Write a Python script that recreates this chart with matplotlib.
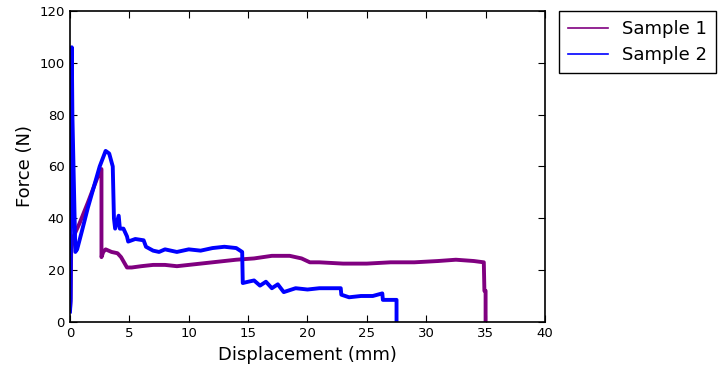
import matplotlib.pyplot as plt

# Sample 1 (purple) - displacement (mm) and force (N)
s1_x = [0.0, 0.05, 0.1, 0.3, 0.8, 1.5, 2.0, 2.5, 2.65, 2.65, 2.8, 3.0, 3.5, 4.0, 4.3,
        4.8, 5.2, 6.0, 7.0, 8.0, 9.0, 10.0, 12.0, 14.0, 15.5, 17.0, 18.5, 19.5, 20.2,
        21.0, 23.0, 25.0, 27.0, 29.0, 31.0, 32.5, 34.0, 34.85, 34.9, 35.0, 35.0]
s1_y = [5.0, 9.0, 28.0, 33.0, 38.0, 46.0, 52.0, 58.0, 59.0, 25.0, 27.0, 28.0, 27.0, 26.5, 25.0,
        21.0, 21.0, 21.5, 22.0, 22.0, 21.5, 22.0, 23.0, 24.0, 24.5, 25.5, 25.5, 24.5, 23.0,
        23.0, 22.5, 22.5, 23.0, 23.0, 23.5, 24.0, 23.5, 23.0, 12.0, 12.0, 0.0]

# Sample 2 (blue)
s2_x = [0.0, 0.05, 0.1, 0.15, 0.2, 0.45, 0.6, 1.0, 1.5, 2.0, 2.5, 3.0, 3.3, 3.6, 3.7,
        3.8, 4.1, 4.2, 4.5, 4.8, 4.9, 5.5, 6.2, 6.4, 7.0, 7.5, 8.0, 9.0, 10.0, 11.0,
        12.0, 13.0, 14.0, 14.5, 14.55, 15.0, 15.5, 16.0, 16.5, 17.0, 17.5, 18.0, 19.0,
        20.0, 21.0, 22.8, 22.85, 23.5, 24.5, 25.5, 26.3, 26.35, 27.0, 27.5, 27.5]
s2_y = [4.0, 8.0, 60.0, 106.0, 80.0, 27.0, 28.0, 35.0, 44.0, 52.0, 60.0, 66.0, 65.0, 60.0, 40.0,
        36.0, 41.0, 36.0, 36.0, 33.0, 31.0, 32.0, 31.5, 29.0, 27.5, 27.0, 28.0, 27.0, 28.0, 27.5,
        28.5, 29.0, 28.5, 27.0, 15.0, 15.5, 16.0, 14.0, 15.5, 13.0, 14.5, 11.5, 13.0,
        12.5, 13.0, 13.0, 10.5, 9.5, 10.0, 10.0, 11.0, 8.5, 8.5, 8.5, 0.0]

fig = plt.figure(figsize=(7.18, 3.73), dpi=100)
ax = fig.add_axes([0.0975, 0.137, 0.6615, 0.8335])

ax.plot(s1_x, s1_y, color='#800080', linewidth=2.8, label='Sample 1')
ax.plot(s2_x, s2_y, color='#0000ff', linewidth=2.8, label='Sample 2')

ax.set_xlim(0, 40)
ax.set_ylim(0, 120)
ax.set_xticks(range(0, 41, 5))
ax.set_yticks(range(0, 121, 20))
ax.tick_params(direction='in', top=True, right=True, labelsize=9.5, length=5, pad=4)
for sp in ax.spines.values():
    sp.set_linewidth(1.2)

ax.set_xlabel('Displacement (mm)', fontsize=13)
ax.set_ylabel('Force (N)', fontsize=13)

leg = ax.legend(loc='upper left', bbox_to_anchor=(1.03, 1.0), fontsize=13,
                fancybox=False, framealpha=1, edgecolor='black', handlelength=2.2,
                borderaxespad=0, labelspacing=0.45, borderpad=0.5)
for line in leg.get_lines():
    line.set_linewidth(1.2)
leg.get_frame().set_linewidth(1.0)

plt.savefig('out.png', dpi=100)
